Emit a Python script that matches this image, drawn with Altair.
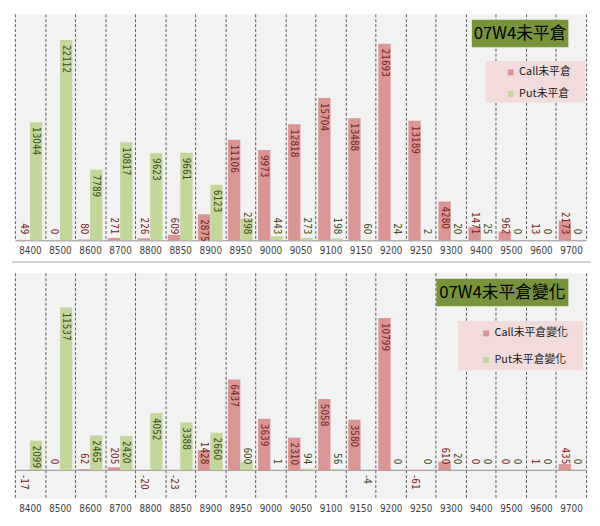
import altair as alt
import pandas as pd

# ---------------- data ----------------
strikes = ["8400", "8500", "8600", "8700", "8800", "8850", "8900", "8950", "9000", "9050",
           "9100", "9150", "9200", "9250", "9300", "9400", "9500", "9600", "9700"]
call_oi = [49, 0, 80, 271, 226, 609, 2875, 11106, 9973, 12818, 15704, 13488, 21693, 13189,
           4280, 1471, 962, 13, 2173]
put_oi = [13044, 22112, 7789, 10817, 9623, 9661, 6123, 2398, 443, 273, 198, 60, 24, 2,
          20, 25, 0, 0, 0]
call_chg = [-17, 0, 62, 205, -20, -23, 1428, 6437, 3639, 2310, 5058, 3580, 10799, -61,
            610, 0, 0, 1, 435]
put_chg = [2099, 11537, 2465, 2420, 4052, 3388, 2660, 600, 1, 94, 56, -4, 0, 0,
           20, 0, 0, 0, 0]

top_title = "07W4未平倉"
bottom_title = "07W4未平倉變化"
top_series = ["Call未平倉", "Put未平倉"]
bottom_series = ["Call未平倉變化", "Put未平倉變化"]

# ---------------- styles ----------------
CALL = "#d99694"
PUT = "#c3d69b"
CALL_TXT = "#7b2422"
PUT_TXT = "#3d4d1c"
TITLE_BG = "#77933c"
LEGEND_BG = "#f2dcdb"
NUM_FONT = "Liberation Sans Narrow, DejaVu Sans Condensed, sans-serif"
CJK_FONT = "Noto Sans CJK TC"
W = 580
BAR_BAND = 0.41      # fraction of a strike's band used by one bar
SHIFT = 6.3          # half a bar width: call bar left of centre, put bar right


def make_df(call, put, series):
    rows = []
    for s, c, p in zip(strikes, call, put):
        rows.append({"strike": s, "side": "call", "series": series[0], "value": c, "label": str(c)})
        rows.append({"strike": s, "side": "put", "series": series[1], "value": p, "label": str(p)})
    return pd.DataFrame(rows)


def panel(call, put, series, title, ydomain, h, thr, tbox, lbox, lpos, row_pad, sep=False):
    df = make_df(call, put, series)
    base = alt.Chart(df)
    x = alt.X("strike:N", sort=strikes,
              scale=alt.Scale(paddingInner=0, paddingOuter=0),
              axis=alt.Axis(title=None, labelAngle=0, grid=True, gridDash=[3, 2],
                            gridColor="#595959", gridWidth=1, tickBand="extent",
                            domain=False, ticks=False, tickSize=0, labelPadding=5,
                            labelFont=NUM_FONT, labelFontSize=10, labelColor="#404040"))
    yscale = alt.Scale(domain=ydomain, nice=False, zero=True)
    yaxis = alt.Axis(title=None, values=[0], grid=True, gridColor="#8c8c8c", gridWidth=1,
                     labels=False, ticks=False, domain=False)
    y = alt.Y("value:Q", scale=yscale, axis=yaxis)
    color = alt.Color("series:N",
                      scale=alt.Scale(domain=series, range=[CALL, PUT]),
                      legend=alt.Legend(title=None, orient="none", legendX=lpos[0],
                                        legendY=lpos[1], direction="vertical",
                                        symbolType="square", symbolSize=36,
                                        symbolStrokeWidth=0, labelFont=CJK_FONT,
                                        labelFontSize=11, labelColor="#1a1a1a",
                                        labelOffset=3, rowPadding=row_pad, padding=0))

    layers = []
    for side, shift, tcol in (("call", -SHIFT, CALL_TXT), ("put", SHIFT, PUT_TXT)):
        sb = base.transform_filter(f"datum.side == '{side}'")
        layers.append(sb.mark_bar(width={"band": BAR_BAND}, xOffset=shift).encode(
            x=x, y=y, color=color))
    for side, shift, tcol in (("call", -SHIFT, CALL_TXT), ("put", SHIFT, PUT_TXT)):
        sb = base.transform_filter(f"datum.side == '{side}'")
        layers.append(sb.transform_filter(f"datum.value >= {thr}").mark_text(
            angle=90, align="left", baseline="middle", dx=5, xOffset=shift,
            font=NUM_FONT, fontSize=10, color=tcol).encode(x=x, y=y, text="label:N"))
        layers.append(sb.transform_filter(f"datum.value >= 0 && datum.value < {thr}").mark_text(
            angle=90, align="right", baseline="middle", dx=-6, xOffset=shift,
            font=NUM_FONT, fontSize=10, color=tcol).encode(x=x, y=alt.datum(0), text="label:N"))
        layers.append(sb.transform_filter("datum.value < 0").mark_text(
            angle=90, align="left", baseline="middle", dx=5, xOffset=shift,
            font=NUM_FONT, fontSize=10, color=tcol).encode(x=x, y=alt.datum(0), text="label:N"))

    one = alt.Chart(pd.DataFrame({"t": [title]}))
    layers.append(one.mark_rect(color=LEGEND_BG).encode(
        x=alt.value(lbox[0]), x2=alt.value(lbox[1]), y=alt.value(lbox[2]), y2=alt.value(lbox[3])))
    layers.append(one.mark_rect(color=TITLE_BG).encode(
        x=alt.value(tbox[0]), x2=alt.value(tbox[1]), y=alt.value(tbox[2]), y2=alt.value(tbox[3])))
    layers.append(one.mark_text(font=CJK_FONT, fontSize=17, color="#000000",
                                align="center", baseline="middle").encode(
        x=alt.value((tbox[0] + tbox[1]) / 2), y=alt.value((tbox[2] + tbox[3]) / 2 + 1),
        text="t:N"))
    if sep:
        layers.append(one.mark_rule(color="#a6a6a6", strokeWidth=1).encode(
            x=alt.value(-3), x2=alt.value(W + 5), y=alt.value(h + 22)))
    return alt.layer(*layers).properties(width=W, height=h)


top = panel(call_oi, put_oi, top_series, top_title, [0, 25000], 230, 2800,
            tbox=(464, 562, 6, 34), lbox=(478, 579, 48, 90), lpos=(498, 54), row_pad=10,
            sep=True)
bottom = panel(call_chg, put_chg, bottom_series, bottom_title, [-2000, 14000], 229, 1800,
               tbox=(428, 562, 6, 34), lbox=(450, 577, 49, 99), lpos=(473, 56), row_pad=15)

chart = alt.vconcat(top, bottom, spacing=9).resolve_scale(
    y="independent", color="independent"
).properties(
    padding={"left": 3, "top": 1, "right": 0, "bottom": 0}
).configure_view(fill="#f2f2f2", stroke="transparent")

chart.save("out.html", embed_options={"renderer": "svg", "actions": False})
